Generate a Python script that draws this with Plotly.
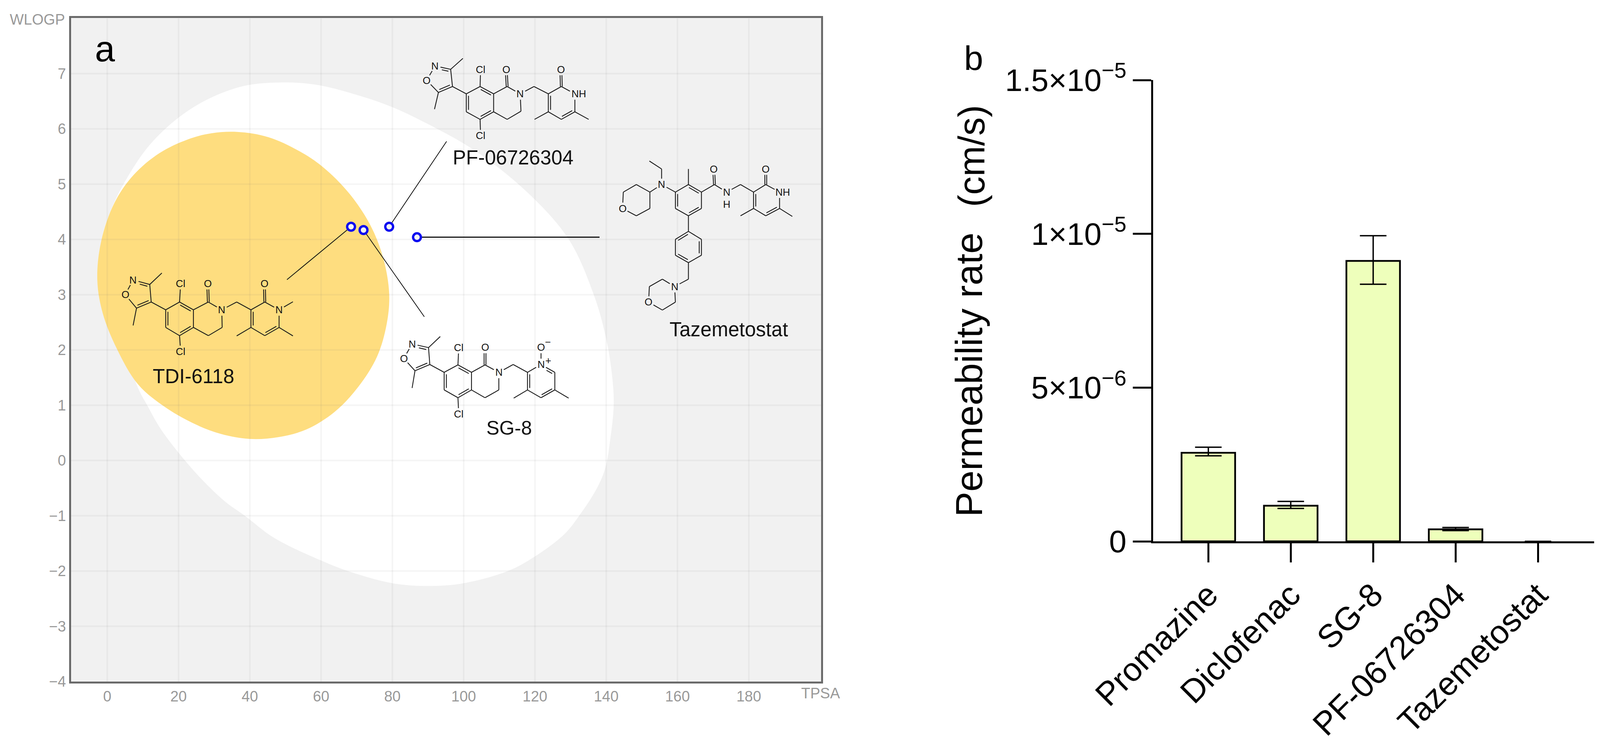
import plotly.graph_objects as go

W_REF, H = 4310, 1910      # frame the reference was measured in
W = 4096                   # width the browser really gives the page
FONT = "Liberation Sans"

# ---------- panel a data ----------
tpsa_points = [68.4, 71.9, 79.1, 86.9]
wlogp_points = [4.23, 4.17, 4.23, 4.04]
x_ticks_a = [0, 20, 40, 60, 80, 100, 120, 140, 160, 180]
y_ticks_a = [-4, -3, -2, -1, 0, 1, 2, 3, 4, 5, 6, 7]

white_tpsa = [48.5, 58.5, 71.8, 80.5, 89.6, 103.3, 117.9, 129.5, 136.5, 140, 141.7, 142.1, 141, 139.8, 137.4, 132.4, 128.3, 119.9, 112.4, 100, 90, 80, 67.5, 60, 46.8, 38.6, 33, 27.1, 21.8, 14.9, 11.2, 9, 5.5, 1.5, -0.9, -1.5, 1.5, 6, 11.9, 19.9, 28.6, 38.5, 48.5]
white_wlogp = [6.84, 6.80, 6.58, 6.38, 6.10, 5.60, 4.85, 4.0, 3.0, 2.2, 1.5, 1.0, 0.32, -0.125, -0.5, -1, -1.33, -1.74, -2, -2.22, -2.27, -2.22, -2, -1.81, -1.40, -1, -0.74, -0.38, 0, 0.58, 1, 1.26, 1.85, 2.6, 3.4, 4, 4.6, 5.16, 5.71, 6.2, 6.55, 6.78, 6.84]
yolk_tpsa = [36.5, 45.2, 53.8, 60.5, 67.8, 73.8, 77.4, 79.1, 78.4, 75.7, 70.4, 63.8, 55.8, 47.8, 39.9, 31.9, 23.9, 15.9, 8.6, 2.7, -1.3, -2.8, -1.7, 2.0, 7.3, 14.6, 22.6, 29.2, 36.5]
yolk_wlogp = [5.945, 5.85, 5.60, 5.31, 4.84, 4.26, 3.67, 3.02, 2.47, 1.88, 1.33, 0.88, 0.56, 0.42, 0.39, 0.48, 0.68, 0.98, 1.38, 2.02, 2.67, 3.27, 3.97, 4.66, 5.16, 5.56, 5.81, 5.92, 5.945]

# ---------- panel b data ----------
compounds = ["Promazine", "Diclofenac", "SG-8", "PF-06726304", "Tazemetostat"]
permeability = [2.88e-6, 1.16e-6, 9.12e-6, 3.9e-7, 0]
err_plus = [0.18e-6, 0.14e-6, 0.82e-6, 0.06e-6, 0]
err_minus = [0.10e-6, 0.09e-6, 0.76e-6, 0.04e-6, 0]
perm_ticks = [0, 5e-6, 1e-5, 1.5e-5]
perm_tick_text = ["0", "5×10<sup>−6</sup>", "1×10<sup>−5</sup>", "1.5×10<sup>−5</sup>"]

# ---------- layout geometry (pixels of the reference) ----------
A_L, A_R, A_T, A_B = 191, 2212, 46, 1745
B_L, B_R, B_T, B_B = 3106, 4294, 205, 1386
X0, XU = 289, 9.6
Y0, YU = 1179, 141.5
def dx(px): return (px - X0) / XU
def dy(py): return (Y0 - py) / YU

fig = go.Figure()

# egg
fig.add_trace(go.Scatter(x=white_tpsa, y=white_wlogp, mode="lines", fill="toself", fillcolor="#ffffff",
                         line=dict(color="#ffffff", width=0, shape="spline"), hoverinfo="skip", showlegend=False))
fig.add_trace(go.Scatter(x=yolk_tpsa, y=yolk_wlogp, mode="lines", fill="toself", fillcolor="#fedd7f",
                         line=dict(color="#fedd7f", width=0, shape="spline"), hoverinfo="skip", showlegend=False))
# grid above the egg
gx, gy = [], []
for t in x_ticks_a:
    gx += [t, t, None]; gy += [-4, 8, None]
for t in y_ticks_a[1:]:
    gx += [-10.2, 200.3, None]; gy += [t, t, None]
fig.add_trace(go.Scatter(x=gx, y=gy, mode="lines", line=dict(color="rgba(120,120,120,0.07)", width=4),
                         hoverinfo="skip", showlegend=False))

# ---------- molecule drawing ----------
def add_molecule(atoms, singles, doubles, carbonyls, hetero, labels, ox, oy, sx, sy):
    def P(n):
        a = atoms[n]
        return (ox + a[0] / sx, oy + a[1] / sy)
    xs, ys = [], []
    def seg(p, q):
        xs.extend([dx(p[0]), dx(q[0]), None]); ys.extend([dy(p[1]), dy(q[1]), None])
    def trim(a, b):
        p, q = P(a), P(b)
        L = ((q[0]-p[0])**2 + (q[1]-p[1])**2) ** 0.5
        ux, uy = (q[0]-p[0])/L, (q[1]-p[1])/L
        if a in hetero: p = (p[0]+ux*15, p[1]+uy*15)
        if b in hetero: q = (q[0]-ux*15, q[1]-uy*15)
        return p, q, ux, uy, L
    for a, b in singles:
        p, q, *_ = trim(a, b)
        seg(p, q)
    for a, b, side in doubles:
        p, q, ux, uy, L = trim(a, b)
        seg(p, q)
        nx, ny = -uy, ux
        s = P(side); m = P(a)
        if (s[0]-m[0])*nx + (s[1]-m[1])*ny < 0:
            nx, ny = -nx, -ny
        sh = 6
        seg((p[0]+nx*sh+ux*5, p[1]+ny*sh+uy*5), (q[0]+nx*sh-ux*5, q[1]+ny*sh-uy*5))
    for a, b in carbonyls:
        p, q, ux, uy, L = trim(a, b)
        nx, ny = -uy, ux
        seg((p[0]+nx*2.5, p[1]+ny*2.5), (q[0]+nx*2.5, q[1]+ny*2.5))
        seg((p[0]-nx*2.5, p[1]-ny*2.5), (q[0]-nx*2.5, q[1]-ny*2.5))
    fig.add_trace(go.Scatter(x=xs, y=ys, mode="lines", line=dict(color="#1a1a1a", width=2.2),
                             hoverinfo="skip", showlegend=False))
    for txt, lx, ly in labels:
        fig.add_annotation(x=dx(ox + lx / sx), y=dy(oy + ly / sy), text=txt, showarrow=False,
                           font=dict(family=FONT, size=26, color="#111111"), xanchor="center", yanchor="middle")

scaffold_single = [("O", "N"), ("C3i", "C4i"), ("C5i", "O"), ("C3i", "M3"), ("C5i", "M5"), ("C4i", "A7"),
                   ("A7", "A8"), ("A8a", "A4a"), ("A5", "A6"), ("A8", "Cl1"), ("A5", "Cl2"), ("A8a", "C1"),
                   ("C1", "N2"), ("N2", "C3"), ("C3", "C4"), ("C4", "A4a"), ("N2", "CH2")]
scaffold_double = [("N", "C3i", "C4i"), ("C4i", "C5i", "C3i"), ("A8", "A8a", "A4a"), ("A4a", "A5", "A8"), ("A6", "A7", "A8a")]
pyridone_single = [("CH2", "R3"), ("R3", "R2"), ("R2", "N1"), ("N1", "R6"), ("R5", "R4"), ("R4", "M4"), ("R6", "M6")]
pyridone_double = [("R6", "R5", "R3"), ("R4", "R3", "R6")]
het = {"N", "O", "N2", "N1", "Cl1", "Cl2", "O1", "O2"}

tdi = dict(N=(102,350), O=(65,463), C3i=(180,385), C4i=(187,520), C5i=(118,567), M3=(237,297), M5=(102,700),
           A7=(255,580), A8=(320,520), A8a=(385,580), A4a=(385,715), A5=(320,778), A6=(255,715),
           Cl1=(325,378), Cl2=(325,900), C1=(455,520), O1=(452,378), N2=(518,580), C3=(520,715), C4=(455,778),
           CH2=(588,520), R3=(655,580), R2=(720,520), O2=(718,378), N1=(787,580), R6=(787,715), R5=(720,778),
           R4=(655,715), M4=(588,780), M6=(852,780), M1=(852,518))
add_molecule(tdi, scaffold_single + pyridone_single + [("N1", "M1")], scaffold_double + pyridone_double,
             [("C1", "O1"), ("R2", "O2")], het,
             [("N",102,350),("O",65,463),("Cl",325,378),("Cl",325,900),("O",452,378),("N",518,578),("O",718,378),("N",787,578)],
             300, 600, 1.742, 3.0)

pf = dict(N=(245,135), O=(213,207), C3i=(305,152), C4i=(312,238), C5i=(258,268), M3=(352,97), M5=(243,352),
          A7=(365,275), A8=(418,238), A8a=(470,275), A4a=(470,365), A5=(418,403), A6=(365,365),
          Cl1=(420,152), Cl2=(420,485), C1=(522,238), O1=(518,152), N2=(572,275), C3=(575,362), C4=(522,403),
          CH2=(625,238), R3=(680,275), R2=(730,238), O2=(728,152), N1=(782,275), R6=(782,365), R5=(730,403),
          R4=(680,365), M4=(627,403), M6=(835,403))
add_molecule(pf, scaffold_single + pyridone_single, scaffold_double + pyridone_double,
             [("C1", "O1"), ("R2", "O2")], het,
             [("N",245,135),("O",213,207),("Cl",420,152),("Cl",420,485),("O",518,152),("N",572,275),("O",728,152),("NH",797,275)],
             1000, 100, 1.4255, 1.96)

sg = dict(N=(157,392), O=(125,503), C3i=(220,420), C4i=(225,550), C5i=(168,598), M3=(265,335), M5=(157,730),
          A7=(280,610), A8=(333,553), A8a=(385,610), A4a=(385,745), A5=(333,805), A6=(280,745),
          Cl1=(336,420), Cl2=(336,930), C1=(437,553), O1=(437,418), N2=(490,610), C3=(490,745), C4=(437,805),
          CH2=(545,550), Q2=(600,610), Np=(652,550), Q6=(705,610), Q5=(705,745), Q4=(652,805), Q3=(600,745),
          Om=(652,418), M4=(547,808), M6=(758,808))
add_molecule(sg, scaffold_single + [("CH2", "Q2"), ("Q2", "Np"), ("Np", "Om"), ("Q6", "Q5"), ("Q4", "Q3"), ("Q3", "M4"), ("Q5", "M6")],
             scaffold_double + [("Q2", "Q3", "Q6"), ("Np", "Q6", "Q3"), ("Q5", "Q4", "Q2")],
             [("C1", "O1")], het | {"Np", "Om"},
             [("N",157,392),("O",125,503),("Cl",336,420),("Cl",336,930),("O",437,418),("N",490,610),("O",652,418),("N",652,550),("−",678,378),("+",680,520)],
             1000, 750, 1.4255, 3.0)

taz = dict(T1=(968,768), T2=(1018,730), T3=(1070,768), T4=(1070,850), T5=(1018,887), Ot=(965,850),
           Na=(1115,730), E1=(1115,652), E2=(1068,612),
           B1=(1168,768), B2=(1218,730), B3=(1268,768), B4=(1268,850), B5=(1218,887), B6=(1168,850),
           Me=(1218,652), Cc=(1318,730), Oc=(1315,652), Nh=(1365,768), Cm=(1418,730),
           P3=(1468,768), P2=(1515,730), Op=(1515,652), Np=(1568,768), P6=(1568,850), P5=(1515,887), P4=(1468,850),
           Mp4=(1418,887), Mp6=(1617,890),
           D1=(1218,965), D2=(1268,1005), D3=(1268,1085), D4=(1218,1122), D5=(1168,1085), D6=(1168,1005),
           Bn=(1218,1205), Nm=(1165,1242), M1=(1118,1205), M2=(1068,1242), Om=(1065,1320), M3=(1118,1360), M4=(1168,1320))
add_molecule(taz,
             [("Ot","T1"),("T1","T2"),("T2","T3"),("T3","T4"),("T4","T5"),("T5","Ot"),("T3","Na"),("Na","E1"),("E1","E2"),("Na","B1"),
              ("B1","B2"),("B3","B4"),("B5","B6"),("B2","Me"),("B3","Cc"),("Cc","Nh"),("Nh","Cm"),("Cm","P3"),("P3","P2"),("P2","Np"),
              ("Np","P6"),("P5","P4"),("P4","Mp4"),("P6","Mp6"),("B5","D1"),("D1","D2"),("D3","D4"),("D5","D6"),("D4","Bn"),("Bn","Nm"),
              ("Nm","M1"),("M1","M2"),("M2","Om"),("Om","M3"),("M3","M4"),("M4","Nm")],
             [("B2","B3","B5"),("B4","B5","B2"),("B6","B1","B3"),("P6","P5","P3"),("P4","P3","P6"),
              ("D2","D3","D5"),("D4","D5","D2"),("D6","D1","D3")],
             [("Cc","Oc"),("P2","Op")], {"Ot","Na","Oc","Nh","Op","Np","Nm","Om"},
             [("O",965,850),("N",1115,730),("O",1315,652),("N",1365,768),("H",1365,830),("O",1515,652),("NH",1580,768),("N",1165,1242),("O",1065,1320)],
             1000, 100, 1.4255, 1.96)

# leader lines from the points to the structures
leader_ends_tpsa = [dx(773), dx(1143), dx(1203), dx(1615)]
leader_ends_wlogp = [dy(716), dy(811), dy(362), 4.04]
leader_widths = [2, 2, 2, 3]
for i in range(4):
    fig.add_trace(go.Scatter(x=[tpsa_points[i], leader_ends_tpsa[i]], y=[wlogp_points[i], leader_ends_wlogp[i]],
                             mode="lines", line=dict(color="#111111", width=leader_widths[i]), hoverinfo="skip", showlegend=False))

fig.add_trace(go.Scatter(x=tpsa_points, y=wlogp_points, mode="markers",
                         marker=dict(size=20, color="#f4f4f4", line=dict(color="#0a0af0", width=6)),
                         showlegend=False))

# ---------- panel b ----------
fig.add_trace(go.Bar(x=compounds, y=permeability, width=0.65, xaxis="x2", yaxis="y2",
                     marker=dict(color="#eeffbb", line=dict(color="#000000", width=[4.5, 4.5, 4.5, 4.5, 0])),
                     error_y=dict(type="data", symmetric=False, array=err_plus[:4] + [None], arrayminus=err_minus[:4] + [None],
                                  color="#000000", thickness=3.5, width=34),
                     showlegend=False))

def ann(text, px, py, size, color="#000000", angle=0):
    fig.add_annotation(xref="paper", yref="paper", x=px / W_REF, y=1 - py / H, text=text, showarrow=False, textangle=angle,
                       xanchor="center", yanchor="middle", font=dict(family=FONT, size=size, color=color))

ann("a", 283, 125, 92)
ann("b", 2623, 148, 88)
ann("WLOGP", 100, 50, 38, "#999999")
ann("TPSA", 2211, 1775, 38, "#999999")
ann("TDI-6118", 521, 963, 51, "#111111")
ann("PF-06726304", 1382, 404, 51, "#111111")
ann("Tazemetostat", 1963, 843, 51, "#111111")
ann("SG-8", 1372, 1096, 50, "#111111")
ann("Permeability rate", 2610, 959, 97, angle=-90)
ann("(cm/s)", 2617, 400, 94, angle=-90)

fig.add_shape(type="rect", xref="x domain", yref="y domain", x0=0, x1=1, y0=0, y1=1, layer="below",
              fillcolor="#f1f1f1", line=dict(width=0))

fig.update_layout(
    width=W, height=H, margin=dict(l=0, r=0, t=0, b=0, autoexpand=False), paper_bgcolor="#ffffff", plot_bgcolor="#ffffff",
    bargap=0.35, showlegend=False,
    xaxis=dict(domain=[A_L / W_REF, A_R / W_REF], range=[dx(A_L), dx(A_R)], tickmode="array", tickvals=x_ticks_a, showgrid=False,
               zeroline=False, showline=True, mirror=True, linecolor="#6a6a6a", linewidth=5, ticks="", automargin=False,
               tickfont=dict(family=FONT, size=38, color="#999999")),
    yaxis=dict(domain=[1 - A_B / H, 1 - A_T / H], range=[dy(A_B), dy(A_T)], tickmode="array", tickvals=y_ticks_a, showgrid=False,
               zeroline=False, showline=True, mirror=True, linecolor="#6a6a6a", linewidth=5, ticks="", automargin=False,
               tickfont=dict(family=FONT, size=38, color="#999999")),
    xaxis2=dict(domain=[B_L / W_REF, B_R / W_REF], range=[-0.671, 4.68], anchor="y2", showgrid=False, zeroline=False, showline=True,
                linecolor="#000000", linewidth=5, ticks="outside", ticklen=49, tickwidth=5, tickcolor="#000000", tickangle=-45,
                automargin=False, tickfont=dict(family=FONT, size=84, color="#000000")),
    yaxis2=dict(domain=[1 - B_B / H, 1 - B_T / H], range=[0, 1.5e-5], anchor="x2", tickmode="array", tickvals=perm_ticks,
                ticktext=perm_tick_text, showgrid=False, zeroline=False, showline=True, linecolor="#000000", linewidth=5,
                ticks="outside", ticklen=47, tickwidth=5, tickcolor="#000000", automargin=False,
                tickfont=dict(family=FONT, size=80, color="#000000")),
)
fig.write_html("out.html", config=dict(displayModeBar=False),
               post_script="document.body.style.margin='0';document.documentElement.style.overflow='hidden';")
